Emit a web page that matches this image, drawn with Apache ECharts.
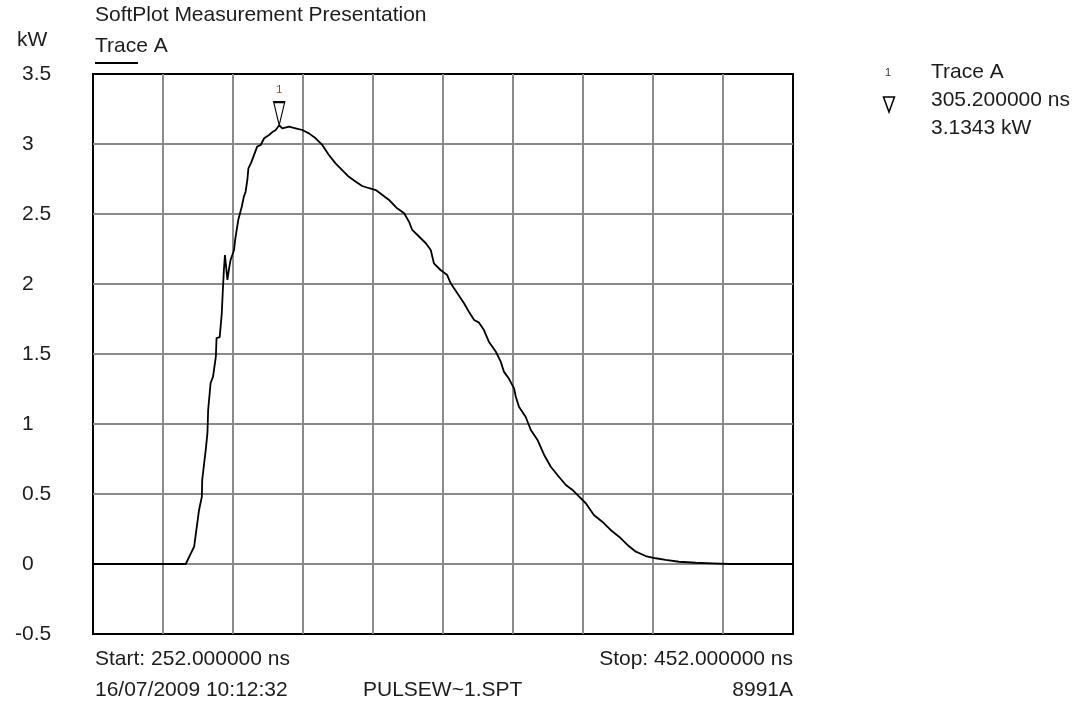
<!DOCTYPE html>
<html>
<head>
<meta charset="utf-8">
<title>SoftPlot Measurement Presentation</title>
<script src="https://cdn.jsdelivr.net/npm/echarts@6/dist/echarts.min.js"></script>
<style>
  html, body { margin: 0; padding: 0; background: #ffffff; }
  #chart { width: 1075px; height: 705px; }
</style>
</head>
<body>
<div id="chart"></div>
<script>
// Pulse trace: time (ns) and power (kW)
const traceTime = [
  252.0, 278.5, 280.9, 282.3, 283.1, 283.2, 284.2, 284.7, 284.9, 285.6,
  286.3, 287.1, 287.3, 288.2, 288.8, 289.1, 289.4, 289.7, 290.1, 290.4,
  290.9, 291.3, 292.3, 292.6, 293.5, 294.5, 295.1, 295.6, 296.1, 296.4,
  297.1, 298.0, 298.9, 299.9, 300.9, 302.3, 303.4, 304.2, 305.2, 306.1,
  308.0, 309.9, 311.8, 313.7, 315.6, 317.5, 319.4, 321.3, 323.2, 325.1,
  327.1, 328.9, 330.9, 332.8, 334.7, 336.6, 338.9, 340.9, 342.3, 343.2,
  344.7, 347.1, 348.5, 349.4, 351.3, 353.2, 354.2, 356.1, 358.0, 359.4,
  360.9, 362.3, 363.7, 365.1, 367.1, 368.5, 369.4, 370.9, 372.3, 372.8,
  373.7, 375.6, 377.1, 379.0, 380.9, 382.8, 384.7, 387.1, 389.0, 390.9,
  392.8, 395.1, 397.5, 399.9, 402.3, 404.7, 407.1, 409.9, 412.8, 415.6,
  419.4, 424.2, 428.9, 433.7, 452.0
];
const tracePower = [
  0.000, 0.000, 0.124, 0.386, 0.480, 0.600, 0.814, 0.936, 1.100, 1.293,
  1.338, 1.481, 1.614, 1.621, 1.793, 1.957, 2.100, 2.207, 2.219, 2.029,
  2.114, 2.171, 2.243, 2.314, 2.457, 2.552, 2.624, 2.659, 2.743, 2.826,
  2.862, 2.921, 2.981, 2.993, 3.041, 3.064, 3.088, 3.100, 3.134, 3.112,
  3.124, 3.112, 3.100, 3.076, 3.041, 2.993, 2.921, 2.862, 2.814, 2.766,
  2.731, 2.700, 2.684, 2.671, 2.636, 2.600, 2.541, 2.505, 2.445, 2.386,
  2.350, 2.291, 2.243, 2.148, 2.100, 2.064, 2.005, 1.934, 1.862, 1.802,
  1.743, 1.724, 1.671, 1.588, 1.516, 1.445, 1.374, 1.321, 1.255, 1.195,
  1.124, 1.052, 0.957, 0.886, 0.779, 0.695, 0.636, 0.564, 0.529, 0.481,
  0.434, 0.350, 0.302, 0.243, 0.195, 0.136, 0.088, 0.057, 0.041, 0.029,
  0.016, 0.009, 0.005, 0.000, 0.000
];

// Sweep span and scale
const startNs = 252;
const stopNs = 452;
const xDivisionNs = 20;
const yMin = -0.5;
const yMax = 3.5;
const yStep = 0.5;

// Marker 1 readout
const markerId = '1';
const markerTrace = 'Trace A';
const markerNs = 305.2;
const markerKw = 3.1343;

// Header / footer texts
const titleText = 'SoftPlot Measurement Presentation';
const unitText = 'kW';
const traceName = 'Trace A';
const dateText = '16/07/2009 10:12:32';
const fileText = 'PULSEW~1.SPT';
const modelText = '8991A';

const FONT = "'Liberation Sans', Arial, 'DejaVu Sans', sans-serif";
const FS = 21;
const TXT = '#1c1c1c';

const chart = echarts.init(document.getElementById('chart'), null, { renderer: 'canvas' });

function txt(x, y, s, align, size, color) {
  return {
    type: 'text', x: x, y: y, silent: true,
    style: {
      text: s, fontFamily: FONT, fontSize: size || FS, fill: color || TXT,
      align: align || 'left', verticalAlign: 'middle'
    }
  };
}

const labelRich = {
  sign: { width: 7, align: 'right', fontFamily: FONT, fontSize: FS, color: TXT },
  num: { fontFamily: FONT, fontSize: FS, color: TXT }
};

const option = {
  backgroundColor: '#ffffff',
  animation: false,
  grid: {
    left: 93, top: 74, width: 700, height: 560,
    show: true, borderColor: '#000000', borderWidth: 2, backgroundColor: 'transparent',
    containLabel: false
  },
  xAxis: [
    {
      // data axis in ns
      type: 'value', min: startNs, max: stopNs,
      axisLine: { show: false }, axisTick: { show: false },
      axisLabel: { show: false }, splitLine: { show: false }
    },
    {
      // division grid, counted from the start of the sweep
      type: 'value', min: 0, max: stopNs - startNs, interval: xDivisionNs,
      axisLine: { show: false }, axisTick: { show: false }, axisLabel: { show: false },
      splitLine: { show: true, showMinLine: false, showMaxLine: false,
                   lineStyle: { color: '#8a8a8a', width: 2 } }
    }
  ],
  yAxis: {
    type: 'value', min: yMin, max: yMax, interval: yStep,
    axisLine: { show: false }, axisTick: { show: false },
    axisLabel: {
      show: true, align: 'left', margin: 78,
      fontFamily: FONT, fontSize: FS, color: TXT,
      rich: labelRich,
      formatter: v => {
        const r = Math.round(v * 10) / 10;
        return '{sign|' + (r < 0 ? '-' : ' ') + '}{num|' + String(Math.abs(r)) + '}';
      }
    },
    splitLine: { show: true, showMinLine: false, showMaxLine: false,
                 lineStyle: { color: '#8a8a8a', width: 2 } }
  },
  series: [{
    type: 'line',
    name: traceName,
    xAxisIndex: 0,
    data: traceTime.map((t, i) => [t, tracePower[i]]),
    showSymbol: false,
    smooth: false,
    lineStyle: { color: '#000000', width: 1.8 },
    z: 5,
    markPoint: {
      silent: true,
      data: [{
        coord: [markerNs, markerKw],
        symbol: 'triangle', symbolRotate: 180,
        symbolSize: [11, 23], symbolOffset: [0, '-50%'],
        itemStyle: { color: '#ffffff', borderColor: '#000000', borderWidth: 1.5 },
        label: { show: true, position: 'top', distance: 6, formatter: markerId,
                 color: '#8b4a2b', fontSize: 11, fontFamily: FONT }
      }]
    }
  }],
  graphic: [
    txt(95, 15.5, titleText),
    txt(17, 40, unitText),
    txt(95, 46, traceName),
    { type: 'rect', silent: true, shape: { x: 95, y: 62, width: 43, height: 2 },
      style: { fill: '#000000' } },
    // marker readout
    txt(885, 73, markerId, 'left', 11, '#333333'),
    { type: 'polygon', silent: true,
      shape: { points: [[883.5, 97], [894.5, 97], [889, 112]] },
      style: { fill: '#ffffff', stroke: '#000000', lineWidth: 1.5 } },
    txt(931, 72, markerTrace),
    txt(931, 100, markerNs.toFixed(6) + ' ns'),
    txt(931, 128, markerKw.toFixed(4) + ' ' + unitText),
    // footer
    txt(95, 659, 'Start: ' + startNs.toFixed(6) + ' ns'),
    txt(793, 659, 'Stop: ' + stopNs.toFixed(6) + ' ns', 'right'),
    txt(95, 690, dateText),
    txt(363, 690, fileText),
    txt(793, 690, modelText, 'right')
  ]
};

chart.setOption(option);
</script>
</body>
</html>
